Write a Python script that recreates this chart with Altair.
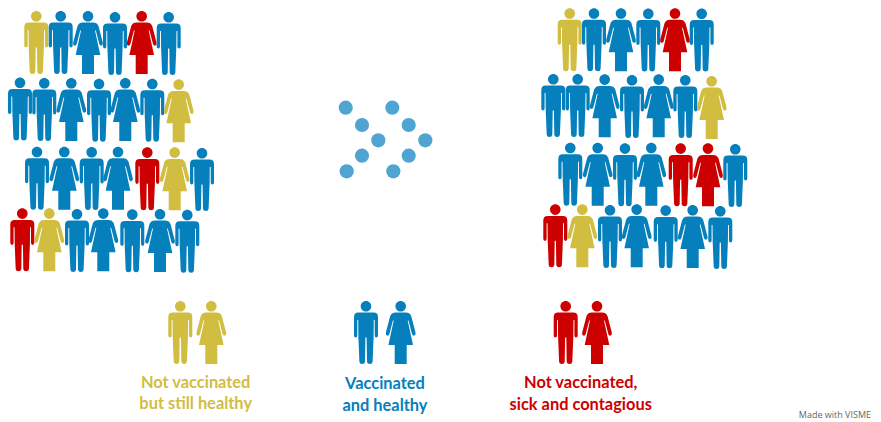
import altair as alt
import pandas as pd

W, H = 865, 412

# person centre-x and head-top y
row_x = [
    [36.3, 60.7, 88, 115, 141.7, 168.7],
    [20, 44.3, 71.3, 99, 125.3, 152.3, 178.7],
    [37, 64.3, 91.7, 118, 147.3, 174.7, 202],
    [22.3, 49.3, 77, 103.3, 132.3, 160, 187.3],
    [569.7, 594, 621, 648.3, 675, 701.7],
    [553.3, 577.7, 604.7, 632, 658.7, 685.3, 711.7],
    [570.3, 597.7, 625, 651.3, 680.7, 708, 735.3],
    [555.3, 582.3, 610, 636.7, 665.7, 692.7, 720.3],
]
row_y = [
    [11, 11, 11, 12, 11, 12],
    [77.5, 78, 78, 78.7, 78, 78.7, 79.3],
    [146.7, 146.7, 147, 146.7, 147.3, 147.3, 148],
    [208.3, 208.3, 209, 208.3, 209.3, 209, 209.7],
    [8.2, 8.2, 8.2, 8.4, 8.2, 8.4],
    [74, 74, 74.3, 75, 74.3, 75, 76],
    [142.7, 142.7, 143.3, 142.7, 143.3, 143.3, 144],
    [204.3, 204.3, 205, 204.3, 205.3, 205, 206],
]
row_sex = [
    ["M", "M", "F", "M", "F", "M"],
    ["M", "M", "F", "M", "F", "M", "F"],
    ["M", "F", "M", "F", "M", "F", "M"],
    ["M", "F", "M", "F", "M", "F", "M"],
    ["M", "M", "F", "M", "F", "M"],
    ["M", "M", "F", "M", "F", "M", "F"],
    ["M", "F", "M", "F", "M", "F", "M"],
    ["M", "F", "M", "F", "M", "F", "M"],
]
row_status = [
    ["yellow", "blue", "blue", "blue", "red", "blue"],
    ["blue", "blue", "blue", "blue", "blue", "blue", "yellow"],
    ["blue", "blue", "blue", "blue", "red", "yellow", "blue"],
    ["red", "yellow", "blue", "blue", "blue", "blue", "blue"],
    ["yellow", "blue", "blue", "blue", "red", "blue"],
    ["blue", "blue", "blue", "blue", "blue", "blue", "yellow"],
    ["blue", "blue", "blue", "blue", "red", "red", "blue"],
    ["red", "yellow", "blue", "blue", "blue", "blue", "blue"],
]
legend_x = [180.3, 211.3, 366, 400.7, 565.7, 597]
legend_y = [301, 301, 301, 301, 301, 301]
legend_sex = ["M", "F", "M", "F", "M", "F"]
legend_status = ["yellow", "yellow", "blue", "blue", "red", "red"]

dot_x = [345.7, 362, 378.3, 362, 346.7, 392.3, 408.7, 425.3, 408.7, 393.3]
dot_y = [107.7, 125, 140.3, 155.7, 171.3, 107.7, 125, 140.3, 155.7, 171.3]

label_text = ["Not vaccinated", "but still healthy", "Vaccinated", "and healthy",
              "Not vaccinated,", "sick and contagious"]
label_x = [195.7, 195.7, 385, 385, 580.7, 580.7]
label_y = [382.7, 404.3, 384, 405.5, 383, 405]
label_status = ["yellow", "yellow", "blue", "blue", "red", "red"]

status_domain = ["yellow", "blue", "red"]
status_range = ["#D1BD3F", "#0580BC", "#CC0000"]

HEAD = "M0,0A5.3,5.3 0 1 1 0,10.6A5.3,5.3 0 1 1 0,0Z"
MAN = HEAD + (
    "M-7.5,11.6L7.5,11.6Q12,11.6 12,16L12,34.5Q12,36.6 10.3,36.6Q8.7,36.6 8.7,34.5"
    "L8.7,19L7.8,19L7.6,36L6.6,60.8Q6.4,63 3.9,63Q1.2,63 1,60.8L0.6,36.5L-0.6,36.5"
    "L-1,60.8Q-1.2,63 -3.9,63Q-6.4,63 -6.6,60.8L-7.6,36L-7.8,19L-8.7,19L-8.7,34.5"
    "Q-8.7,36.6 -10.3,36.6Q-12,36.6 -12,34.5L-12,16Q-12,11.6 -7.5,11.6Z"
)
WOMAN = HEAD + (
    "M-5,11.6L5,11.6Q9,11.6 10.5,15L14.8,31.5Q15.2,34 13.5,34.6Q12,35 11.3,33L7.8,19.5"
    "L7,19.5L12.3,44L6,44L6,63L-6,63L-6,44L-12.3,44L-7,19.5L-7.8,19.5L-11.3,33"
    "Q-12,35 -13.5,34.6Q-15.2,34 -14.8,31.5L-10.5,15Q-9,11.6 -5,11.6Z"
)

people = pd.DataFrame(
    [
        {"x": x, "y": y, "sex": s, "status": c}
        for xs, ys, ss, cs in zip(row_x, row_y, row_sex, row_status)
        for x, y, s, c in zip(xs, ys, ss, cs)
    ]
    + [
        {"x": x, "y": y, "sex": s, "status": c}
        for x, y, s, c in zip(legend_x, legend_y, legend_sex, legend_status)
    ]
)
dots = pd.DataFrame({"x": dot_x, "y": dot_y})
labels = pd.DataFrame({"x": label_x, "y": label_y, "t": label_text, "status": label_status})
credit = pd.DataFrame({"x": [871], "y": [414.5], "t": ["Made with VISME"]})

xs = alt.X("x:Q", axis=None, scale=alt.Scale(domain=[8, 8 + W], nice=False, zero=False))
ys = alt.Y("y:Q", axis=None, scale=alt.Scale(domain=[8 + H, 8], nice=False, zero=False))
col = alt.Color("status:N", legend=None,
                scale=alt.Scale(domain=status_domain, range=status_range))

figures = alt.Chart(people).mark_point(filled=True, size=4, opacity=1, strokeWidth=0).encode(
    x=xs, y=ys, color=col,
    shape=alt.Shape("sex:N", legend=None, scale=alt.Scale(domain=["M", "F"], range=[MAN, WOMAN])),
)
arrow = alt.Chart(dots).mark_circle(size=201, color="#4FA4D1", opacity=1).encode(x=xs, y=ys)
text = alt.Chart(labels).mark_text(
    font="Lato", fontSize=16.4, fontWeight="bold", align="center", baseline="middle"
).encode(x=xs, y=ys, text="t:N", color=col)
made = alt.Chart(credit).mark_text(
    font="Open Sans", fontSize=9, align="right", baseline="middle", color="#666666"
).encode(x=xs, y=ys, text="t:N")

chart = (
    alt.layer(arrow, figures, text, made)
    .resolve_scale(color="shared")
    .properties(width=W, height=H, padding=0, background="white",
                autosize=alt.AutoSizeParams(type="none"))
    .configure_view(stroke=None)
)
chart.save("out.html", embed_options={"renderer": "svg", "actions": False})
